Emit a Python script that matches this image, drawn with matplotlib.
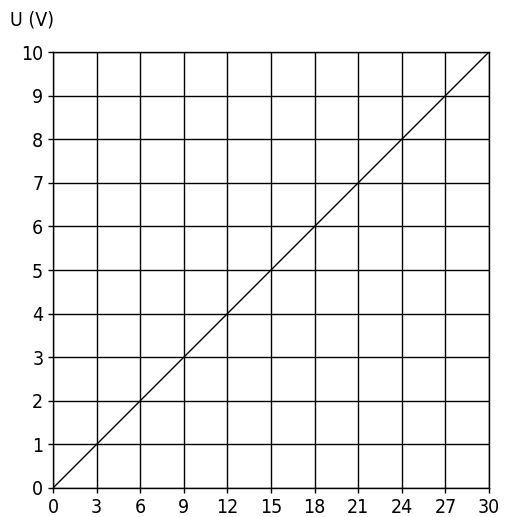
import matplotlib
matplotlib.use('Agg')
import matplotlib.pyplot as plt

# donnees : droite U = f(I)
i_vals = [0, 3, 6, 9, 12, 15, 18, 21, 24, 27, 30]
u_vals = [0, 1, 2, 3, 4, 5, 6, 7, 8, 9, 10]
x_ticks = [0, 3, 6, 9, 12, 15, 18, 21, 24, 27, 30]
y_ticks = [0, 1, 2, 3, 4, 5, 6, 7, 8, 9, 10]

plt.rcParams['font.family'] = 'DejaVu Sans'
plt.rcParams['font.stretch'] = 'condensed'

fig = plt.figure(figsize=(5.06, 5.17), dpi=100)
ax = fig.add_axes([0.1047, 0.0561, 0.8617, 0.8433])
ax.plot(i_vals, u_vals, color='black', linewidth=1)
ax.set_xlim(0, 30)
ax.set_ylim(0, 10)
ax.set_xticks(x_ticks)
ax.set_yticks(y_ticks)
ax.grid(True, color='black', linewidth=1)
for s in ax.spines.values():
    s.set_linewidth(1)
ax.tick_params(direction='out', length=3.5, width=1, labelsize=14, pad=3.5)
fig.text(0.02, 0.961, 'U (V)', fontsize=14, va='center', ha='left')
fig.savefig('out.png', dpi=100)
